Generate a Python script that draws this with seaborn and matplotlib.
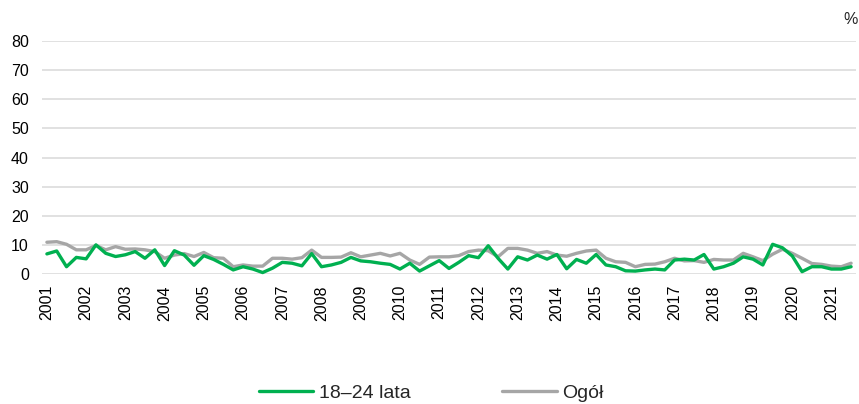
import numpy as np
import pandas as pd
import matplotlib
matplotlib.use("Agg")
import matplotlib.pyplot as plt
import seaborn as sns
from matplotlib.lines import Line2D

years = list(range(2001, 2022))
series_names = ["18–24 lata", "Ogół"]
youth = [6.9, 7.9, 2.5, 5.7, 5.2, 10.0, 7.1, 6.0, 6.6, 7.7, 5.4, 8.3,
         2.9, 8.0, 6.5, 3.0, 6.3, 5.0, 3.3, 1.4, 2.5, 1.7, 0.5, 2.0,
         4.0, 3.7, 2.8, 7.0, 2.5, 3.1, 4.0, 5.7, 4.5, 4.2, 3.7, 3.3,
         1.7, 3.7, 1.0, 2.8, 4.6, 1.9, 4.0, 6.3, 5.6, 9.7, 5.4, 1.7,
         5.9, 4.8, 6.5, 5.1, 6.7, 1.8, 5.0, 3.7, 6.7, 3.1, 2.5, 1.1,
         1.0, 1.4, 1.7, 1.4, 4.8, 5.1, 4.8, 6.7, 1.7, 2.5, 3.7, 5.9,
         5.1, 3.1, 10.2, 9.0, 6.2, 0.8, 2.5, 2.5, 1.7, 1.7, 2.5]
total = [10.9, 11.1, 10.2, 8.3, 8.3, 9.8, 8.3, 9.4, 8.5, 8.6, 8.3, 7.7,
         5.4, 6.5, 7.0, 6.0, 7.4, 5.6, 5.4, 2.5, 3.1, 2.7, 2.7, 5.4,
         5.4, 5.1, 5.6, 8.2, 5.7, 5.7, 5.8, 7.3, 5.9, 6.5, 7.1, 6.2,
         7.1, 4.8, 3.3, 5.8, 5.9, 5.9, 6.3, 7.7, 8.2, 8.0, 5.9, 8.8,
         8.8, 8.2, 7.1, 7.7, 6.5, 6.1, 7.1, 7.9, 8.2, 5.4, 4.2, 4.0,
         2.5, 3.3, 3.4, 4.2, 5.4, 4.5, 4.6, 4.0, 5.0, 4.8, 4.8, 7.1,
         5.9, 4.6, 6.8, 8.5, 7.1, 5.4, 3.6, 3.3, 2.7, 2.5, 3.7]
y_ticks = [0, 10, 20, 30, 40, 50, 60, 70, 80]

n = len(youth)
df = pd.DataFrame({
    "idx": list(range(n)) * 2,
    "value": youth + total,
    "series": [series_names[0]] * n + [series_names[1]] * n,
})

sns.set_theme(style="white")
plt.rcParams["font.family"] = ["Liberation Sans", "DejaVu Sans"]

fig = plt.figure(figsize=(8.59, 4.04), dpi=100)
ax = fig.add_axes([42 / 859, 1 - 274 / 404, (856 - 42) / 859, (274 - 41) / 404])

palette = {series_names[0]: "#00B050", series_names[1]: "#A6A6A6"}
sns.lineplot(data=df, x="idx", y="value", hue="series", hue_order=series_names[::-1],
             palette=palette, linewidth=2.4, ax=ax, legend=False)
for line in ax.lines:
    line.set_clip_on(False)
    if matplotlib.colors.to_hex(line.get_color()).lower() == "#00b050":
        line.set_zorder(4)
    else:
        line.set_zorder(3)

ax.set_xlim(-0.5, n - 0.5)
ax.set_ylim(0, 80)
ax.set_yticks(y_ticks)
ax.set_yticklabels([str(v) for v in y_ticks], fontsize=11.5, color="#000000")
ax.set_xticks([4 * k for k in range(len(years))])
ax.set_xticklabels([str(y) for y in years], rotation=90, fontsize=11.5, color="#000000")
ax.tick_params(axis="both", length=0)
ax.tick_params(axis="x", pad=8)
ax.tick_params(axis="y", pad=9.5)
ax.grid(axis="y", color="#D9D9D9", linewidth=1.1)
ax.set_axisbelow(True)
for s in ax.spines.values():
    s.set_visible(False)
ax.set_xlabel("")
ax.set_ylabel("")

fig.text(858 / 859, 1 - 20 / 404, "%", ha="right", va="center", fontsize=11.5)

handles = [Line2D([], [], color="#00B050", linewidth=2.4),
           Line2D([], [], color="#A6A6A6", linewidth=2.4)]
fig.legend(handles, series_names, loc="center", bbox_to_anchor=(0.502, 1 - 393 / 404),
           ncol=2, frameon=False, fontsize=14, handlelength=2.8, handletextpad=0.3,
           columnspacing=4.7)

fig.savefig("out.png", dpi=100)
